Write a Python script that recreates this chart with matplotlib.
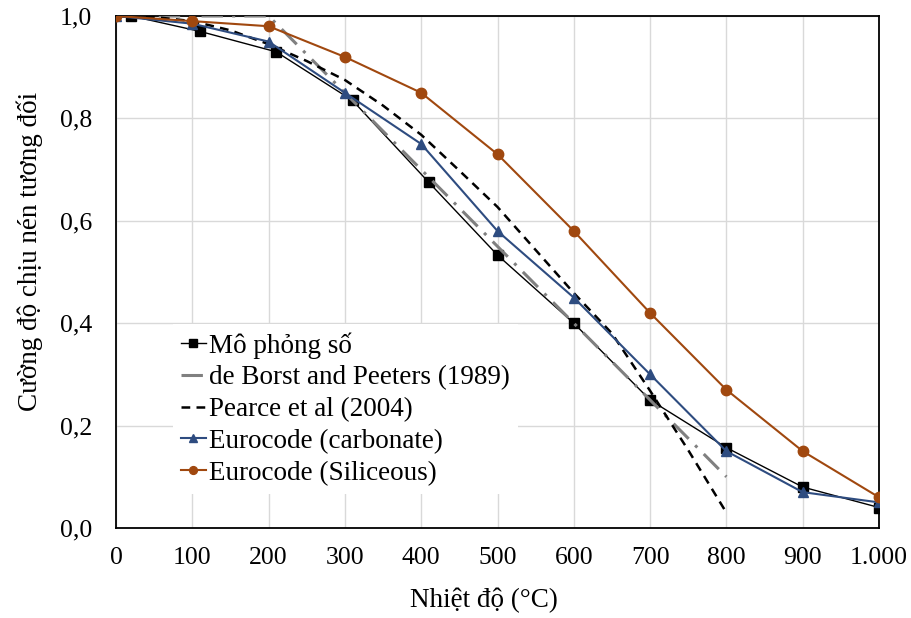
import matplotlib
matplotlib.use("Agg")
import matplotlib.pyplot as plt

# ---- data ----
sim_x = [20, 110, 210, 310, 410, 500, 600, 700, 800, 900, 1000]
sim_y = [1.0, 0.97, 0.93, 0.835, 0.675, 0.533, 0.40, 0.25, 0.157, 0.08, 0.04]

borst_x = [0, 200, 800]
borst_y = [1.0, 1.0, 0.10]

pearce_x = [0, 50, 100, 150, 200, 250, 300, 350, 400, 450, 500, 550, 600, 650, 700, 750, 800]
pearce_y = [1.0, 0.998, 0.99, 0.972, 0.945, 0.912, 0.875, 0.825, 0.768, 0.698, 0.627, 0.543, 0.459, 0.38, 0.268, 0.152, 0.03]

ec_carb_x = [0, 100, 200, 300, 400, 500, 600, 700, 800, 900, 1000]
ec_carb_y = [1.0, 0.985, 0.95, 0.85, 0.75, 0.58, 0.45, 0.30, 0.15, 0.07, 0.05]

ec_sil_x = [0, 100, 200, 300, 400, 500, 600, 700, 800, 900, 1000]
ec_sil_y = [1.0, 0.99, 0.98, 0.92, 0.85, 0.73, 0.58, 0.42, 0.27, 0.15, 0.06]

labels = ["Mô phỏng số", "de Borst and Peeters (1989)", "Pearce et al (2004)",
          "Eurocode (carbonate)", "Eurocode (Siliceous)"]

x_ticks = [0, 100, 200, 300, 400, 500, 600, 700, 800, 900, 1000]
x_tick_labels = ["0", "100", "200", "300", "400", "500", "600", "700", "800", "900", "1.000"]
y_ticks = [0.0, 0.2, 0.4, 0.6, 0.8, 1.0]
y_tick_labels = ["0,0", "0,2", "0,4", "0,6", "0,8", "1,0"]

x_label = "Nhiệt độ (°C)"
y_label = "Cường độ chịu nén tương đối"

# ---- style ----
plt.rcParams['font.family'] = ['Liberation Serif', 'DejaVu Serif']
FS_TICK = 18.5
FS = 19.5

fig = plt.figure(figsize=(9.12, 6.18), dpi=100)
ax = fig.add_axes([116/912, 1-528/618, (879-116)/912, (528-16)/618])

ax.plot(sim_x, sim_y, color='black', lw=1.0, marker='s', ms=7, label=labels[0], zorder=3)
ax.plot(borst_x, borst_y, color='#808080', lw=2.2, dashes=[7, 3, 1, 3], label=labels[1], zorder=3)
ax.plot(pearce_x, pearce_y, color='black', lw=1.8, dashes=[3.5, 2.5], label=labels[2], zorder=3)
ax.plot(ec_carb_x, ec_carb_y, color='#2E4C80', lw=1.5, marker='^', ms=7.5, label=labels[3], zorder=3)
ax.plot(ec_sil_x, ec_sil_y, color='#A0480F', lw=1.5, marker='o', ms=7.5, label=labels[4], zorder=3)

ax.set_xlim(0, 1000)
ax.set_ylim(0, 1.0)
ax.set_xticks(x_ticks)
ax.set_xticklabels(x_tick_labels)
ax.set_yticks(y_ticks)
ax.set_yticklabels(y_tick_labels)
ax.tick_params(axis='both', length=0, labelsize=FS_TICK)
ax.tick_params(axis='x', pad=14)
ax.tick_params(axis='y', pad=17)
ax.grid(True, color='#D9D9D9', lw=1.0, zorder=0)
ax.set_axisbelow(True)
for s in ax.spines.values():
    s.set_color('black')
    s.set_linewidth(1.3)

ax.set_xlabel(x_label, fontsize=FS)
ax.set_ylabel(y_label, fontsize=FS)
ax.xaxis.set_label_coords(0.482, -0.117)
ax.yaxis.set_label_coords(-0.096, 0.541)

leg = ax.legend(loc='upper left', bbox_to_anchor=(0.057, 0.425), fontsize=FS,
                frameon=True, facecolor='white', edgecolor='none', framealpha=1,
                handlelength=0.9, handletextpad=0.12, labelspacing=0.25,
                borderpad=0.3, markerscale=0.75, fancybox=False)
leg.set_zorder(5)

fig.savefig("out.png", dpi=100)
